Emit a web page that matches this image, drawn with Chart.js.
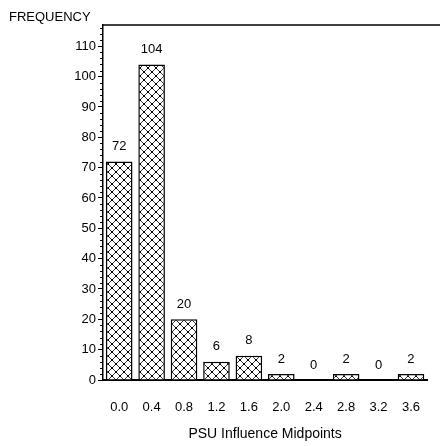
<!DOCTYPE html>
<html><head><meta charset="utf-8">
<script src="https://cdn.jsdelivr.net/npm/chart.js@4/dist/chart.umd.min.js"></script>
<style>html,body{margin:0;padding:0;overflow:hidden;background:#fff;width:440px;height:446px}canvas{display:block}</style>
</head><body>
<canvas id="c" width="440" height="446" style="width:440px;height:446px"></canvas>
<script>
const categories = ['0.0','0.4','0.8','1.2','1.6','2.0','2.4','2.8','3.2','3.6'];
const frequencies = [72,104,20,6,8,2,0,2,0,2];
const yAxisLabel = 'FREQUENCY';
const xAxisLabel = 'PSU Influence Midpoints';
const yMax = 117;
const yMajorStep = 10;
const yMinorStep = 2;

const FONT = "'Liberation Sans', Arial, sans-serif";
Chart.defaults.font.family = FONT;
Chart.defaults.font.size = 13;
Chart.defaults.color = '#000';

const ctx = document.getElementById('c').getContext('2d');
function makePattern() {
  const t = document.createElement('canvas');
  t.width = 8; t.height = 8;
  const g = t.getContext('2d');
  g.fillStyle = '#fff'; g.fillRect(0,0,8,8);
  g.strokeStyle = '#333'; g.lineWidth = 1;
  g.beginPath();
  g.moveTo(0,0); g.lineTo(8,8);
  g.moveTo(8,0); g.lineTo(0,8);
  g.stroke();
  g.fillStyle = '#000';
  g.fillRect(3,3,2,2);
  g.fillRect(0,0,1,1); g.fillRect(7,0,1,1); g.fillRect(0,7,1,1); g.fillRect(7,7,1,1);
  return ctx.createPattern(t, 'repeat');
}
const hatch = makePattern();

const decor = {
  id: 'decor',
  afterDraw(chart) {
    const c = chart.ctx, a = chart.chartArea, y = chart.scales.y;
    c.save();
    c.strokeStyle = '#000';
    c.lineWidth = 1.5;
    c.beginPath();
    c.moveTo(a.left, a.top); c.lineTo(chart.width + 10, a.top);
    c.stroke();
    c.lineWidth = 1;
    c.beginPath();
    for (let v = 0; v <= yMax; v += yMinorStep) {
      if (v % yMajorStep === 0) continue;
      const py = Math.round(y.getPixelForValue(v)) + 0.5;
      c.moveTo(a.left - 3, py); c.lineTo(a.left, py);
    }
    c.stroke();
    c.fillStyle = '#000';
    c.font = '13px ' + FONT;
    c.textAlign = 'center';
    c.textBaseline = 'middle';
    chart.getDatasetMeta(0).data.forEach((bar, i) => {
      c.fillText(String(frequencies[i]), bar.x, bar.y - 15);
    });
    c.textAlign = 'left';
    c.fillText(yAxisLabel, 9, 17);
    c.restore();
  }
};

new Chart(ctx, {
  type: 'bar',
  data: {
    labels: categories,
    datasets: [{
      data: frequencies,
      backgroundColor: hatch,
      borderColor: '#000',
      borderWidth: 1.5,
      categoryPercentage: 1,
      barPercentage: 0.82
    }]
  },
  options: {
    responsive: false,
    animation: false,
    events: [],
    layout: {padding: {top: 25, right: -5, left: 0, bottom: 0}},
    plugins: {legend: {display: false}, tooltip: {enabled: false}},
    scales: {
      x: {
        offset: true,
        grid: {display: false, drawTicks: false},
        border: {display: true, color: '#000', width: 2},
        ticks: {padding: 20, maxRotation: 0, autoSkip: false},
        title: {display: true, text: xAxisLabel, font: {size: 14}, padding: {top: 0, bottom: 3}},
        afterFit(s) { s.height = 66; }
      },
      y: {
        min: 0, max: yMax,
        grid: {display: true, drawOnChartArea: false, drawTicks: true, tickLength: 5, color: '#000', tickColor: '#000'},
        border: {display: true, color: '#000', width: 1.5},
        ticks: {stepSize: yMajorStep, includeBounds: false, padding: 2},
        afterFit(s) { s.width = 103; }
      }
    }
  },
  plugins: [decor]
});
</script>
</body></html>
